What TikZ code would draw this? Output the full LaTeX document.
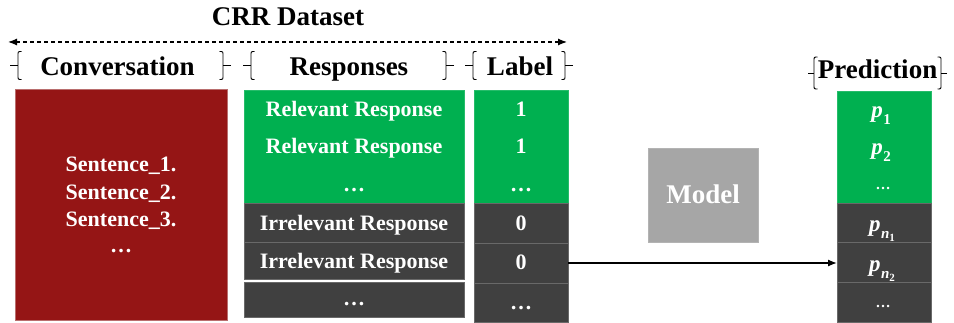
\documentclass[tikz,border=0pt]{standalone}
\usepackage{fontspec}
\setmainfont{Liberation Serif}
\usetikzlibrary{arrows.meta}

\definecolor{convred}{RGB}{149,21,21}
\definecolor{relgreen}{RGB}{0,176,80}
\definecolor{irrgray}{RGB}{64,64,64}
\definecolor{modelgray}{RGB}{166,166,166}
\definecolor{cellline}{RGB}{105,105,105}

\tikzset{headtip/.tip={Latex[length=9pt,width=7pt]}}

% probability symbol p with a lowered subscript, bold italic
\newcommand{\probsym}[1]{\textit{p}\kern0.5pt\raisebox{-0.28em}{\fontsize{15}{15}\selectfont #1}}
\newcommand{\subn}[1]{\textit{n}\raisebox{-0.22em}{\fontsize{11}{11}\selectfont #1}}

\begin{document}
\begin{tikzpicture}[x=1pt,y=-1pt,
  cell/.style={inner sep=0pt, outer sep=0pt, anchor=north west, line width=0.8pt},
  relcell/.style={cell, fill=relgreen, draw=relgreen!85!white},
  irrcell/.style={cell, fill=irrgray, draw=cellline},
  txt/.style={text=white, font=\bfseries\fontsize{22}{22}\selectfont, anchor=base, inner sep=0pt},
  ptxt/.style={txt, font=\bfseries\fontsize{23}{23}\selectfont},
  small/.style={text=white, font=\bfseries\fontsize{15}{15}\selectfont, anchor=base, inner sep=0pt},
  head/.style={text=black, font=\bfseries\fontsize{27}{27}\selectfont, anchor=base, inner sep=0pt},
  % opening bracket with a short tick at its middle; the tick points left
  openbr/.pic={
    \draw[line width=0.9pt] (3.5,-\brh) .. controls (0,-\brh) .. (0,-\brh+4)
       -- (0,\brh-4) .. controls (0,\brh) .. (3.5,\brh);
    \draw[line width=0.9pt] (-\brt,0) -- (0,0);
  },
  closebr/.pic={
    \draw[line width=0.9pt] (-3.5,-\brh) .. controls (0,-\brh) .. (0,-\brh+4)
       -- (0,\brh-4) .. controls (0,\brh) .. (-3.5,\brh);
    \draw[line width=0.9pt] (\brt,0) -- (0,0);
  }
]
\useasboundingbox (0,0) rectangle (954,323);

% ---- headings ----
\node[head] (title) at (288,26) {CRR Dataset};
\coordinate (spanL) at (8,42);
\coordinate (spanR) at (567,42);
\draw[line width=1.2pt, dash pattern=on 4pt off 3pt, headtip-headtip] (spanL) -- (spanR);

\node[head] (hconv) at (117.5,76) {Conversation};
\node[head] (hresp) at (349,76) {Responses};
\node[head] (hlab)  at (520,76) {Label};
\node[head] (hpred) at (877.5,79) {Prediction};

% brackets around the column headings
\def\brh{14}\def\brt{8}
\pic at (18,65.5) {openbr};
\pic at (223,65.5) {closebr};
\pic at (251,65.5) {openbr};
\pic at (446,65.5) {closebr};
\pic at (473,65.5) {openbr};
\pic at (565,65.5) {closebr};
\def\brh{16}\def\brt{6}
\pic at (814,73) {openbr};
\pic at (941,73) {closebr};

% ---- conversation block ----
\node[cell, fill=convred, draw={rgb,255:red,185;green,110;blue,110},
      minimum width=212, minimum height=231] (conv) at (15,89) {};
\node[txt] (s1) at (121,172) {Sentence\_1.};
\node[txt] (s2) at (121,199.5) {Sentence\_2.};
\node[txt] (s3) at (121,227) {Sentence\_3.};
\node[txt] (s4) at (121,253) {…};

% ---- responses column ----
\node[relcell, minimum width=220, minimum height=113] (rrel) at (244,90) {};
\node[irrcell, minimum width=220, minimum height=39] (rirr1) at (244,203) {};
\node[irrcell, minimum width=220, minimum height=37] (rirr2) at (244,242) {};
\node[irrcell, minimum width=220, minimum height=35] (rmore) at (244,282) {};
\node[txt] (r1) at (354,117) {Relevant Response};
\node[txt] (r2) at (354,154) {Relevant Response};
\node[txt] (r3) at (354,192) {…};
\node[txt] (r4) at (354,231) {Irrelevant Response};
\node[txt] (r5) at (354,269) {Irrelevant Response};
\node[txt] (r6) at (354,306) {…};

% ---- label column ----
\node[relcell, minimum width=94, minimum height=113] (lrel) at (474,90) {};
\node[irrcell, minimum width=94, minimum height=40] (lzero1) at (474,203) {};
\node[irrcell, minimum width=94, minimum height=40] (lzero2) at (474,243) {};
\node[irrcell, minimum width=94, minimum height=39] (lmore) at (474,283) {};
\node[txt] (l1) at (521,117) {1};
\node[txt] (l2) at (521,154) {1};
\node[txt] (l3) at (521,192) {…};
\node[txt] (l4) at (521,231) {0};
\node[txt] (l5) at (521,270) {0};
\node[txt] (l6) at (521,310) {…};

% ---- model ----
\node[cell, fill=modelgray, draw=modelgray!85!white, minimum width=110, minimum height=94] (model) at (648,148) {};
\node[head, text=white] (mtext) at (703,204) {Model};

% ---- prediction column ----
\node[relcell, minimum width=94, minimum height=112] (prel) at (837,91) {};
\node[irrcell, minimum width=94, minimum height=39] (pn1) at (837,203) {};
\node[irrcell, minimum width=94, minimum height=40] (pn2) at (837,242) {};
\node[irrcell, minimum width=94, minimum height=40] (pmore) at (837,282) {};
\node[ptxt] (p1) at (881,118) {\probsym{1}};
\node[ptxt] (p2) at (881,155) {\probsym{2}};
\node[small] (p3) at (883,190) {…};
\node[ptxt] (p4) at (882,232) {\probsym{\subn{1}}};
\node[ptxt] (p5) at (882,272) {\probsym{\subn{2}}};
\node[small] (p6) at (883,308) {…};

% ---- connector ----
\draw[line width=1.3pt, -headtip] (lzero2.east) -- (lzero2.east -| pn2.west);
\end{tikzpicture}
\end{document}
